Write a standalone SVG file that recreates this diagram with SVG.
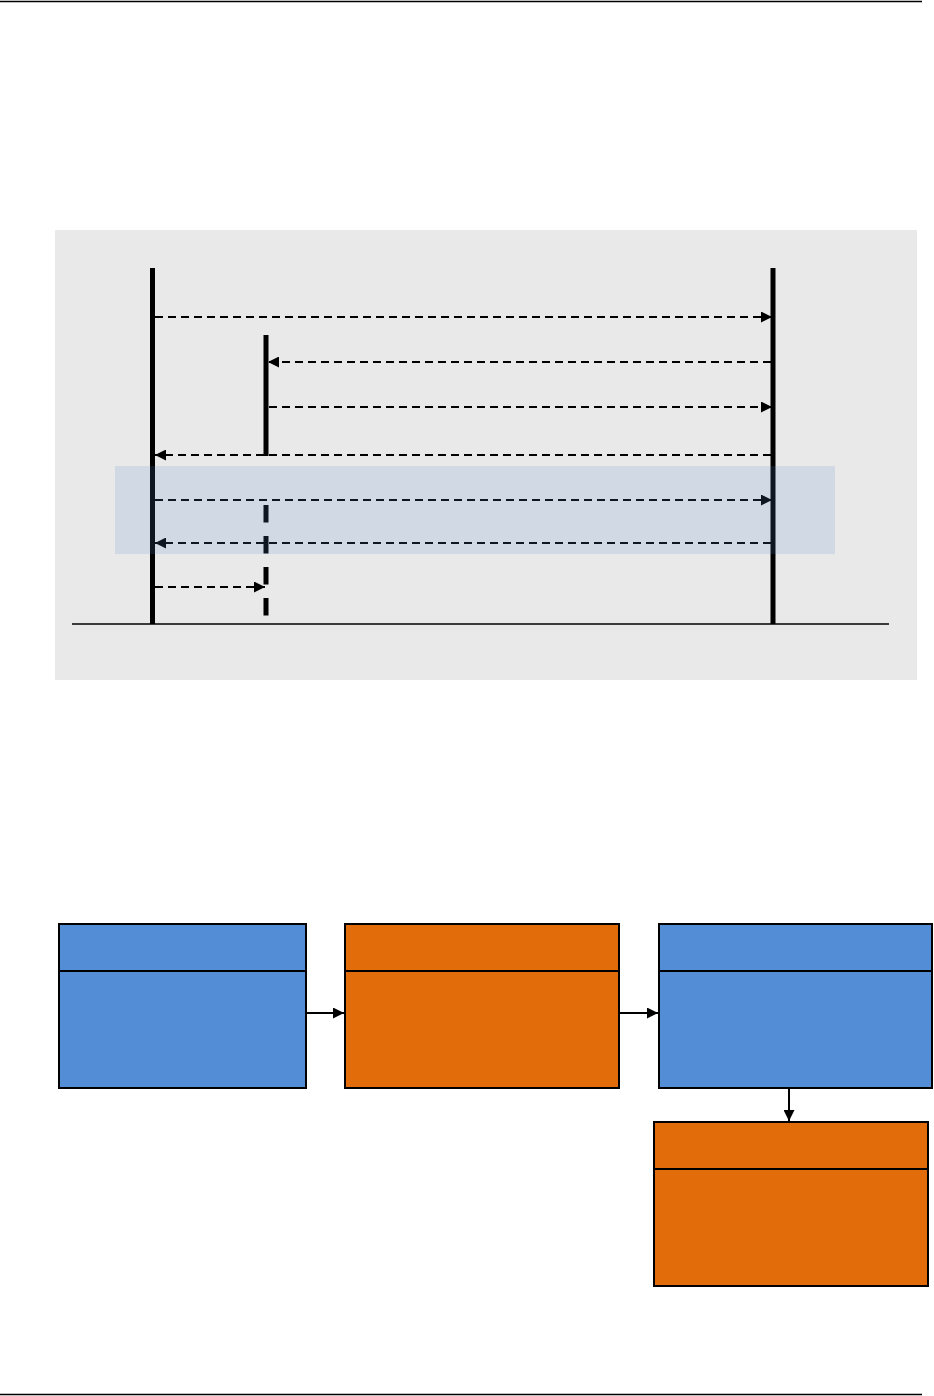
<svg xmlns="http://www.w3.org/2000/svg" width="934" height="1396" viewBox="0 0 934 1396">
<style>
.life{stroke:#000;stroke-width:5;fill:none}
.msg{stroke:#000;stroke-width:2;stroke-dasharray:8,5;fill:none}
.conn{stroke:#000;stroke-width:2;fill:none}
.blue{fill:#538dd5;stroke:#000;stroke-width:2}
.orange{fill:#e36c0a;stroke:#000;stroke-width:2}
.div{stroke:#000;stroke-width:2}
</style>
<defs>
<marker id="ah" viewBox="0 0 10 10" refX="10" refY="5" markerWidth="5.5" markerHeight="5.5" orient="auto" markerUnits="strokeWidth">
<path d="M0,0 L10,5 L0,10 Z" fill="#000"/>
</marker>
</defs>
<rect width="934" height="1396" fill="#fff"/>
<line x1="0" y1="1.5" x2="922" y2="1.5" stroke="#000" stroke-width="1.5"/>
<line x1="0" y1="1394.5" x2="922" y2="1394.5" stroke="#000" stroke-width="1.5"/>

<g id="panel">
<rect x="55" y="230" width="862" height="450" fill="#e9e9e9"/>
<line x1="72" y1="624" x2="889" y2="624" stroke="#000" stroke-width="1.5"/>
</g>
<g id="lifeline-a"><line class="life" x1="152.5" y1="268" x2="152.5" y2="624"/></g>
<g id="lifeline-b">
<line class="life" x1="266" y1="335" x2="266" y2="456"/>
<line class="life" x1="266" y1="505" x2="266" y2="617" stroke-dasharray="17.5,13.5"/>
</g>
<g id="lifeline-c"><line class="life" x1="773" y1="268" x2="773" y2="624"/></g>
<g id="messages">
<line class="msg" x1="155" y1="317" x2="772" y2="317" marker-end="url(#ah)"/>
<line class="msg" x1="771" y1="362" x2="268" y2="362" marker-end="url(#ah)"/>
<line class="msg" x1="269" y1="407" x2="772" y2="407" marker-end="url(#ah)"/>
<line class="msg" x1="771" y1="455" x2="155" y2="455" marker-end="url(#ah)"/>
<line class="msg" x1="155" y1="500" x2="772" y2="500" marker-end="url(#ah)"/>
<line class="msg" x1="771" y1="543" x2="155" y2="543" marker-end="url(#ah)"/>
<line class="msg" x1="155" y1="587" x2="265" y2="587" marker-end="url(#ah)"/>
</g>
<g id="highlight"><rect x="115" y="466" width="720" height="88" fill="#4f87ce" fill-opacity="0.16"/></g>

<g id="box-a">
<rect class="blue" x="59" y="924" width="247" height="164"/>
<line class="div" x1="59" y1="971" x2="306" y2="971"/>
</g>
<g id="box-b">
<rect class="orange" x="345" y="924" width="274" height="164"/>
<line class="div" x1="345" y1="971" x2="619" y2="971"/>
</g>
<g id="box-c">
<rect class="blue" x="659" y="924" width="273" height="164"/>
<line class="div" x1="659" y1="971" x2="932" y2="971"/>
</g>
<g id="box-d">
<rect class="orange" x="654" y="1122" width="274" height="164"/>
<line class="div" x1="654" y1="1169" x2="928" y2="1169"/>
</g>
<g id="connectors">
<line class="conn" x1="306" y1="1013" x2="344" y2="1013" marker-end="url(#ah)"/>
<line class="conn" x1="619" y1="1013" x2="658" y2="1013" marker-end="url(#ah)"/>
<line class="conn" x1="789" y1="1088" x2="789" y2="1121" marker-end="url(#ah)"/>
</g>
</svg>
